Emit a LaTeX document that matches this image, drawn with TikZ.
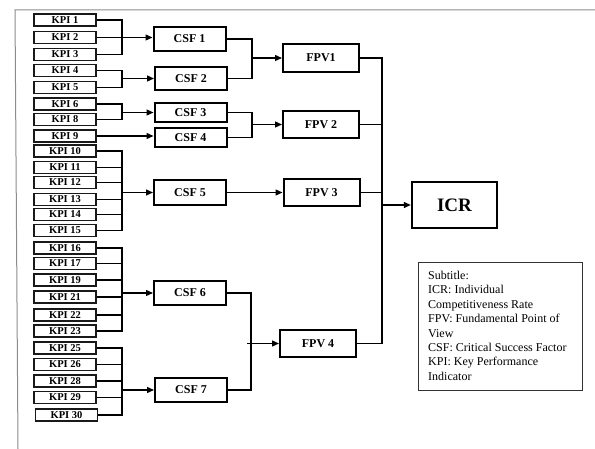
\documentclass[tikz,border=0pt]{standalone}
\usepackage{fontspec}
\setmainfont{Liberation Serif}
\usetikzlibrary{arrows.meta,calc}
\begin{document}
\begin{tikzpicture}[x=1pt,y=-1pt,
  kpi/.style={draw=black!90, line width=1.8pt, minimum width=62pt, minimum height=12pt, inner sep=0pt, font=\bfseries\fontsize{10.5}{10}\selectfont},
  csf/.style={draw=black, line width=2pt, minimum width=72pt, inner sep=0pt, font=\bfseries\fontsize{12}{12}\selectfont},
  fpv/.style={draw=black, line width=2pt, minimum width=76pt, minimum height=27pt, inner sep=0pt, font=\bfseries\fontsize{12}{12}\selectfont},
  icrbox/.style={draw=black, line width=2.4pt, minimum width=85pt, minimum height=46pt, inner sep=0pt, font=\bfseries\fontsize{19}{19}\selectfont},
  conn/.style={draw=black, line width=1.3pt},
  arr/.style={conn, -{Triangle[length=7pt,width=6pt]}},
  frameline/.style={draw=black!45, line width=1pt}
]
\useasboundingbox (0,0) rectangle (595,449);
\draw[frameline] (18,449) -- (15,10) -- (595,10);

% KPI boxes
\node[kpi] (k1) at (65,20) {KPI 1};
\node[kpi] (k2) at (65,37.5) {KPI 2};
\node[kpi] (k3) at (65,54.5) {KPI 3};
\node[kpi] (k4) at (65,70.5) {KPI 4};
\node[kpi] (k5) at (65,87.5) {KPI 5};
\node[kpi] (k6) at (65,104) {KPI 6};
\node[kpi] (k8) at (65,119.5) {KPI 8};
\node[kpi] (k9) at (65,136) {KPI 9};
\node[kpi] (k10) at (65,151) {KPI 10};
\node[kpi] (k11) at (65,167.5) {KPI 11};
\node[kpi] (k12) at (65,182.5) {KPI 12};
\node[kpi] (k13) at (65,199.5) {KPI 13};
\node[kpi] (k14) at (65,214.5) {KPI 14};
\node[kpi] (k15) at (65,230.5) {KPI 15};
\node[kpi] (k16) at (65,248) {KPI 16};
\node[kpi] (k17) at (65,263.5) {KPI 17};
\node[kpi] (k19) at (65,280) {KPI 19};
\node[kpi] (k21) at (65,297) {KPI 21};
\node[kpi] (k22) at (65,315) {KPI 22};
\node[kpi] (k23) at (65,331) {KPI 23};
\node[kpi] (k25) at (65,348) {KPI 25};
\node[kpi] (k26) at (65,364.5) {KPI 26};
\node[kpi] (k28) at (65,381) {KPI 28};
\node[kpi] (k29) at (65,397.5) {KPI 29};
\node[kpi] (k30) at (66.5,415) {KPI 30};

% CSF boxes
\node[csf, minimum height=24pt] (c1) at (189.5,39) {CSF 1};
\node[csf, minimum height=23pt] (c2) at (191,78.5) {CSF 2};
\node[csf, minimum height=19pt] (c3) at (190.5,112.5) {CSF 3};
\node[csf, minimum height=19pt] (c4) at (190.5,137.5) {CSF 4};
\node[csf, minimum height=25pt] (c5) at (190,192.5) {CSF 5};
\node[csf, minimum height=24pt] (c6) at (190,293) {CSF 6};
\node[csf, minimum height=24pt] (c7) at (191,390) {CSF 7};

% FPV boxes
\node[fpv, minimum height=28pt] (f1) at (321,58) {FPV1};
\node[fpv] (f2) at (321,124.5) {FPV 2};
\node[fpv] (f3) at (321.5,192.5) {FPV 3};
\node[fpv] (f4) at (318,343.5) {FPV 4};

% ICR
\node[icrbox] (icr) at (454.5,205) {ICR};

% Legend
\draw[draw=black!80, line width=1pt] (418,263) rectangle (582,390);
\node[anchor=north west, inner sep=0pt, align=left, font=\fontsize{12}{14.4}\selectfont] (legend) at (428,271)
  {Subtitle:\\ICR: Individual\\Competitiveness Rate\\FPV: Fundamental Point of\\View\\CSF: Critical Success Factor\\KPI: Key Performance\\Indicator};

% bracket x positions
\coordinate (bx) at (122,0);
\coordinate (cx) at (252,0);
\coordinate (fx) at (382,0);

% KPI -> CSF
\draw[conn] (k1.east) -- (k1.east -| bx) -- (k3.east -| bx) -- (k3.east);
\draw[arr] (k2.east) -- (k2.east -| c1.west);

\draw[conn] (k4.east) -- (k4.east -| bx) -- (k5.east -| bx) -- (k5.east);
\draw[arr] (bx |- c2.west) -- (c2.west);

\draw[conn] (k6.east) -- (k6.east -| bx) -- (k8.east -| bx) -- (k8.east);
\draw[arr] (bx |- c3.west) -- (c3.west);

\draw[arr] (k9.east) -- (k9.east -| c4.west);

\draw[conn] (k10.east) -- (k10.east -| bx) -- (k15.east -| bx) -- (k15.east);
\foreach \k in {k11,k12,k13,k14} \draw[conn] (\k.east) -- (\k.east -| bx);
\draw[arr] (bx |- c5.west) -- (c5.west);

\draw[conn] (k16.east) -- (k16.east -| bx) -- (k23.east -| bx) -- (k23.east);
\foreach \k in {k17,k19,k21,k22} \draw[conn] (\k.east) -- (\k.east -| bx);
\draw[arr] (bx |- c6.west) -- (c6.west);

\draw[conn] (k25.east) -- (k25.east -| bx) -- (k30.east -| bx) -- (k30.east);
\foreach \k in {k26,k28,k29} \draw[conn] (\k.east) -- (\k.east -| bx);
\draw[arr] (bx |- c7.west) -- (c7.west);

% CSF -> FPV
\draw[conn] (c1.east) -- (c1.east -| cx) -- (c2.east -| cx) -- (c2.east);
\draw[arr] (cx |- f1.west) -- (f1.west);

\draw[conn] (c3.east) -- (c3.east -| cx) -- (c4.east -| cx) -- (c4.east);
\draw[arr] (cx |- f2.west) -- (f2.west);

\draw[arr] (c5.east) -- (f3.west);

\draw[conn] (c6.east) -- ($(c6.east -| cx)+(-1,0)$) -- ($(c7.east -| cx)+(-1,0)$) -- (c7.east);
\draw[arr] ($(cx |- f4.west)+(-5,0)$) -- (f4.west);

% FPV -> ICR
\draw[conn] (f1.east) -- (f1.east -| fx) -- (f4.east -| fx) -- (f4.east);
\draw[conn] (f2.east) -- (f2.east -| fx);
\draw[conn] (f3.east) -- (f3.east -| fx);
\draw[arr] (fx |- icr.west) -- (icr.west);
\end{tikzpicture}
\end{document}
